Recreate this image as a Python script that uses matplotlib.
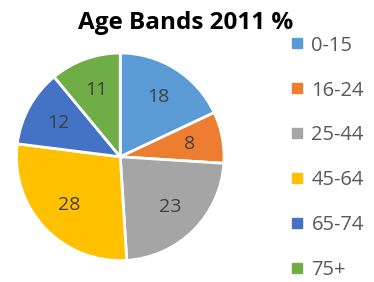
import matplotlib
matplotlib.use("Agg")
import matplotlib.pyplot as plt
from matplotlib.lines import Line2D

plt.rcParams["font.family"] = ["Open Sans", "DejaVu Sans"]

# Data
bands = ["0-15", "16-24", "25-44", "45-64", "65-74", "75+"]
shares = [18, 8, 23, 28, 12, 11]
colors = ["#5B9BD5", "#ED7D31", "#A5A5A5", "#FFC000", "#4472C4", "#70AD47"]

fig = plt.figure(figsize=(3.74, 2.82), dpi=100)
ax = fig.add_axes([0.044, 0.076, 0.555, 0.736])

wedges, texts = ax.pie(
    shares,
    colors=colors,
    startangle=90,
    counterclock=False,
    labels=[str(v) for v in shares],
    labeldistance=0.68,
    wedgeprops=dict(edgecolor="white", linewidth=2),
    textprops=dict(color="#404040", fontsize=14),
)
for t in texts:
    t.set_horizontalalignment("center")
    t.set_verticalalignment("center")
ax.set_xlim(-1.0, 1.0)
ax.set_ylim(-1.0, 1.0)
ax.set_aspect("equal")

fig.text(0.497, 0.918, "Age Bands 2011 %", ha="center", va="center",
         fontsize=17.5, fontweight="bold", color="black")

handles = [Line2D([], [], marker="s", linestyle="none", markersize=7,
                  markerfacecolor=c, markeredgecolor=c) for c in colors]
fig.legend(handles, bands, loc="upper left", bbox_to_anchor=(0.768, 0.874),
           frameon=False, fontsize=14.5, labelcolor="#595959",
           labelspacing=1.24, handletextpad=0.2, handlelength=1.0,
           borderaxespad=0, borderpad=0)

fig.savefig("out.png", dpi=100)
